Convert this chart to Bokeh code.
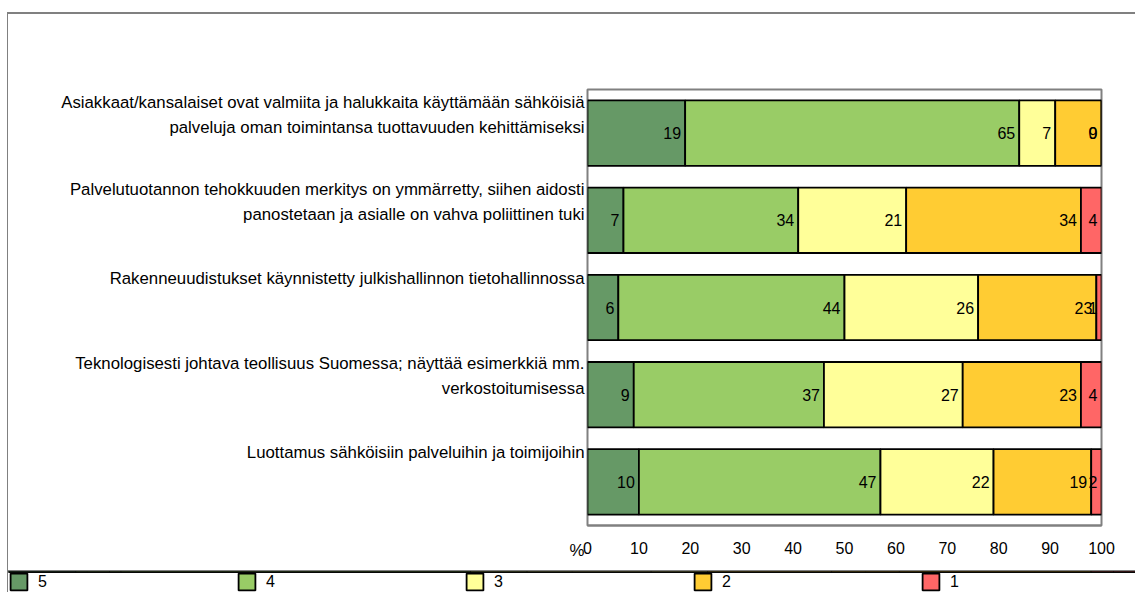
from bokeh.plotting import figure
from bokeh.models import Range1d, FixedTicker, Legend, LegendItem, ColumnDataSource
from bokeh.embed import file_html
from bokeh.resources import INLINE
from bokeh.core.properties import value

categories = [
    "Asiakkaat/kansalaiset ovat valmiita ja halukkaita käyttämään sähköisiä\npalveluja oman toimintansa tuottavuuden kehittämiseksi",
    "Palvelutuotannon tehokkuuden merkitys on ymmärretty, siihen aidosti\npanostetaan ja asialle on vahva poliittinen tuki",
    "Rakenneuudistukset käynnistetty julkishallinnon tietohallinnossa",
    "Teknologisesti johtava teollisuus Suomessa; näyttää esimerkkiä mm.\nverkostoitumisessa",
    "Luottamus sähköisiin palveluihin ja toimijoihin",
]
series_names = ["5", "4", "3", "2", "1"]
s5 = [19, 7, 6, 9, 10]
s4 = [65, 34, 44, 37, 47]
s3 = [7, 21, 26, 27, 22]
s2 = [9, 34, 23, 23, 19]
s1 = [0, 4, 1, 4, 2]
x_ticks = [0, 10, 20, 30, 40, 50, 60, 70, 80, 90, 100]
unit_label = "%"
colors = ["#669966", "#99CC66", "#FFFF99", "#FFCC33", "#FF6666"]

FONT = "Liberation Sans"
FS = "16px"
GRAY = "#808080"

series = [s5, s4, s3, s2, s1]
n = len(categories)
ys = [i + 0.5 for i in range(n)]

p = figure(width=1128, height=558, x_range=Range1d(0, 100), y_range=Range1d(n, 0),
           output_backend="svg", toolbar_location=None,
           min_border_left=579, min_border_right=35, min_border_top=75, min_border_bottom=47,
           styles={"border-top": "2px solid #808080", "border-left": "1px solid #808080",
                   "margin-top": "12px", "margin-left": "7px"})
p.xgrid.visible = False
p.ygrid.visible = False
p.outline_line_color = GRAY
p.outline_line_width = 2

# legend strip (separate root so its frame is not aligned with the chart's frame);
# it shows the same bar renderers' styles, its own view range keeps the bars out of sight
lg = figure(width=1128, height=22, x_range=Range1d(0, 100), y_range=Range1d(-100, -99),
            output_backend="svg", toolbar_location=None,
            x_axis_location=None, y_axis_location=None,
            min_border=0, min_border_left=0, min_border_right=0,
            min_border_top=0, min_border_bottom=0,
            styles={"border-top": "1px solid #808080",
                    "border-left": "1px solid #808080", "margin-left": "7px"})
lg.xgrid.visible = False
lg.ygrid.visible = False
lg.outline_line_color = None

items = []
cum = [0] * n
for name, vals, col in zip(series_names, series, colors):
    left = cum[:]
    right = [a + b for a, b in zip(cum, vals)]
    src = ColumnDataSource(dict(y=ys, left=left, right=right, lab=[str(v) for v in vals]))
    p.hbar(y="y", left="left", right="right", height=0.75, source=src,
           fill_color=col, line_color="black", line_width=1.8)
    p.text(x="right", y="y", text="lab", source=src, text_align="right", text_baseline="middle",
           x_offset=-4, text_font=value(FONT), text_font_size=FS, text_color="black")
    r = lg.hbar(y="y", left="left", right="right", height=0.75, source=src,
                fill_color=col, line_color="black", line_width=1.8)
    items.append(LegendItem(label=name, renderers=[r], index=0))
    cum = right

# x axis
p.xaxis.ticker = FixedTicker(ticks=x_ticks)
p.xaxis.axis_line_color = GRAY
p.xaxis.axis_line_width = 2
p.xaxis.major_tick_line_color = None
p.xaxis.minor_tick_line_color = None
p.xaxis.major_tick_out = 0
p.xaxis.major_tick_in = 0
p.xaxis.major_label_standoff = 16
p.xaxis.major_label_text_font = FONT
p.xaxis.major_label_text_font_size = FS
p.xaxis.major_label_text_color = "black"

# y axis: category labels aligned with the top of each bar, unit label at the bottom
ytick_pos = []
overrides = {}
for i, c in enumerate(categories):
    nl = c.count("\n") + 1
    pos = round(i + 0.164 + 0.124 * (nl - 1), 3)
    ytick_pos.append(pos)
    overrides[pos] = c
ytick_pos.append(float(n))
overrides[float(n)] = "\n\n" + unit_label
p.yaxis.ticker = FixedTicker(ticks=ytick_pos)
p.yaxis.major_label_overrides = overrides
p.yaxis.axis_line_color = None
p.yaxis.major_tick_line_color = None
p.yaxis.minor_tick_line_color = None
p.yaxis.major_tick_out = 0
p.yaxis.major_tick_in = 0
p.yaxis.major_label_standoff = 3
p.yaxis.major_label_text_font = FONT
p.yaxis.major_label_text_font_size = "16.8px"
p.yaxis.major_label_text_color = "black"
p.yaxis.major_label_text_line_height = 1.31

legend = Legend(items=items, orientation="horizontal", location=(0, 1),
                glyph_width=21, glyph_height=21, label_standoff=9, label_width=198,
                label_height=16, spacing=0, padding=0, margin=0,
                label_text_font=FONT, label_text_font_size=FS, label_text_color="black",
                background_fill_alpha=0, border_line_color=None)
lg.add_layout(legend, "center")

open("out.html", "w").write(file_html([p, lg], INLINE))
